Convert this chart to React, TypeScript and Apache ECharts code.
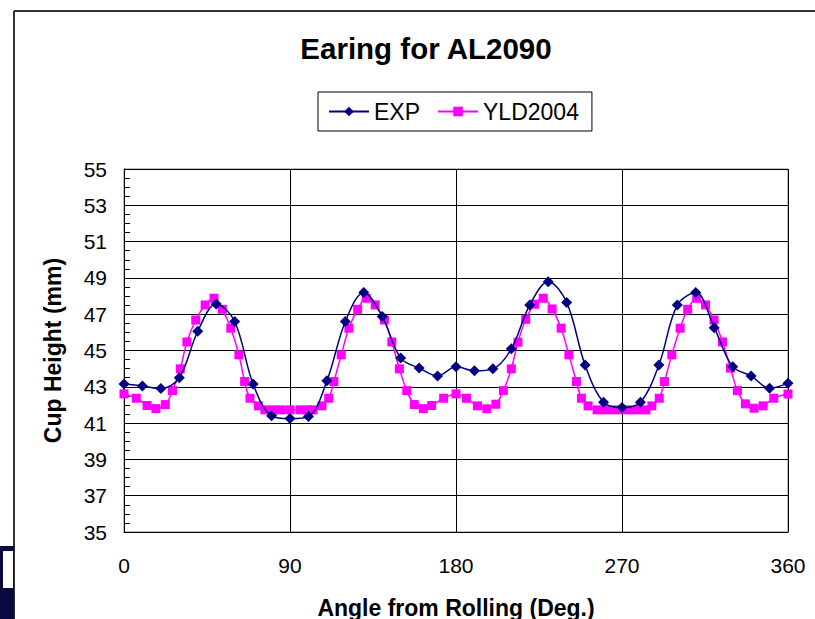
import React, { useEffect, useRef } from "react";
import * as echarts from "echarts";

const chartTitle = "Earing for AL2090";
const xAxisName = "Angle from Rolling (Deg.)";
const yAxisName = "Cup Height (mm)";
const xTicks = [0, 90, 180, 270, 360];

const expAngles = [0, 10, 20, 30, 40, 50, 60, 70, 80, 90, 100, 110, 120, 130, 140, 150, 160, 170, 180, 190, 200, 210, 220, 230, 240, 250, 260, 270, 280, 290, 300, 310, 320, 330, 340, 350, 360];
const expValues = [43.15, 43.05, 42.9, 43.5, 46.06, 47.56, 46.6, 43.15, 41.4, 41.25, 41.36, 43.33, 46.6, 48.2, 46.87, 44.58, 44.03, 43.6, 44.1, 43.88, 43.99, 45.09, 47.51, 48.79, 47.65, 44.2, 42.15, 41.86, 42.15, 44.2, 47.51, 48.19, 46.26, 44.11, 43.6, 42.92, 43.2];

const yldAngles = [0, 6.7, 12.5, 17.3, 22.4, 26.3, 30.5, 34.1, 38.9, 44.0, 48.8, 53.3, 57.9, 62.3, 65.4, 68.3, 72.8, 76.4, 80.9, 85.0, 90.0, 95.4, 99.2, 102.5, 107.3, 111.0, 113.8, 117.8, 121.9, 126.7, 131.3, 136.2, 141.2, 145.2, 149.3, 153.3, 157.4, 162.3, 166.8, 173.3, 180.0, 185.7, 191.6, 196.7, 201.6, 205.7, 210.0, 213.6, 217.8, 222.6, 227.3, 232.1, 237.0, 241.2, 245.3, 248.0, 251.6, 256.5, 261.0, 265.5, 270.0, 274.5, 279.0, 283.0, 286.2, 290.2, 293.0, 297.0, 301.5, 305.6, 310.5, 315.3, 319.9, 324.5, 328.8, 332.6, 336.9, 341.6, 346.5, 352.3, 360.0];
const yldValues = [42.61, 42.37, 41.97, 41.8, 42.02, 42.79, 43.99, 45.47, 46.68, 47.51, 47.88, 47.27, 46.23, 44.76, 43.29, 42.37, 41.95, 41.73, 41.73, 41.73, 41.73, 41.73, 41.73, 41.73, 41.95, 42.37, 43.29, 44.76, 46.23, 47.27, 47.88, 47.51, 46.68, 45.47, 43.99, 42.79, 42.02, 41.8, 41.97, 42.37, 42.61, 42.37, 41.95, 41.79, 42.04, 42.79, 43.99, 45.46, 46.72, 47.55, 47.88, 47.29, 46.23, 44.76, 43.29, 42.37, 41.95, 41.73, 41.73, 41.73, 41.73, 41.73, 41.73, 41.73, 41.95, 42.37, 43.29, 44.76, 46.23, 47.27, 47.88, 47.51, 46.68, 45.47, 44.03, 42.79, 42.06, 41.82, 41.95, 42.37, 42.6];

const FONT = "'Liberation Sans', Arial, sans-serif";

export default function App() {
  const ref = useRef<HTMLDivElement>(null);
  useEffect(() => {
    if (!ref.current) return;
    const chart = echarts.init(ref.current, null, { renderer: "svg" });
    const expData = expAngles.map((a, i) => [a, expValues[i]]);
    const yldData = yldAngles.map((a, i) => [a, yldValues[i]]);
    chart.setOption({
      animation: false,
      backgroundColor: "#ffffff",
      textStyle: { fontFamily: FONT },
      title: {
        text: chartTitle,
        left: 421,
        textAlign: "center",
        top: 28,
        textStyle: { fontFamily: FONT, fontSize: 29.5, fontWeight: "bold", color: "#000" },
      },
      legend: {
        left: 318,
        top: 92,
        padding: [8, 13, 8, 10],
        itemGap: 17,
        itemWidth: 40,
        itemHeight: 12,
        borderColor: "#000",
        borderWidth: 1,
        textStyle: { fontFamily: FONT, fontSize: 23, color: "#000" },
        data: ["EXP", "YLD2004"],
      },
      grid: {
        left: 124,
        top: 169,
        width: 664,
        height: 363,
        containLabel: false,
        outerBoundsMode: "none",
        show: true,
        borderColor: "#808080",
        borderWidth: 1,
        backgroundColor: "transparent",
      },
      xAxis: {
        type: "value",
        min: 0,
        max: 360,
        interval: 90,
        name: xAxisName,
        nameLocation: "middle",
        nameGap: 64,
        nameTextStyle: { fontFamily: FONT, fontSize: 23, fontWeight: "bold", color: "#000" },
        axisLine: { show: true, lineStyle: { color: "#000", width: 1 } },
        axisTick: { show: false },
        axisLabel: {
          margin: 23,
          fontFamily: FONT,
          fontSize: 21,
          color: "#000",
          customValues: xTicks,
        },
        splitLine: { show: true, lineStyle: { color: "#000", width: 1 } },
      },
      yAxis: {
        type: "value",
        min: 35,
        max: 55,
        interval: 2,
        name: yAxisName,
        nameLocation: "middle",
        nameGap: 60,
        nameRotate: 90,
        nameTextStyle: { fontFamily: FONT, fontSize: 23, fontWeight: "bold", color: "#000" },
        axisLine: { show: true, lineStyle: { color: "#000", width: 1 } },
        axisTick: { show: true, inside: true, length: 6, lineStyle: { color: "#000" } },
        minorTick: { show: true, splitNumber: 4, length: 6, lineStyle: { color: "#000" } },
        axisLabel: { margin: 17, fontFamily: FONT, fontSize: 21, color: "#000" },
        splitLine: { show: true, lineStyle: { color: "#000", width: 1 } },
      },
      series: [
        {
          name: "EXP",
          type: "line",
          data: expData,
          smooth: 0.35,
          symbol: "diamond",
          symbolSize: 11,
          color: "#000080",
          lineStyle: { color: "#000080", width: 1.5 },
          itemStyle: { color: "#000080" },
          z: 3,
        },
        {
          name: "YLD2004",
          type: "line",
          data: yldData,
          smooth: 0.35,
          symbol: "rect",
          symbolSize: 9,
          color: "#ff00ff",
          lineStyle: { color: "#ff00ff", width: 1.5 },
          itemStyle: { color: "#ff00ff" },
          z: 2,
        },
      ],
      graphic: [
        {
          type: "line",
          shape: { x1: 14, y1: 11, x2: 815, y2: 11 },
          style: { stroke: "#333", lineWidth: 2 },
        },
        {
          type: "line",
          shape: { x1: 14, y1: 11, x2: 14, y2: 619 },
          style: { stroke: "#333", lineWidth: 2 },
        },
        {
          type: "rect",
          shape: { x: 0, y: 546, width: 14, height: 73 },
          style: { fill: "#0a0a40" },
        },
        {
          type: "rect",
          shape: { x: 3, y: 551, width: 10, height: 37 },
          style: { fill: "#ffffff" },
        },
      ],
    });
    return () => chart.dispose();
  }, []);
  return (
    <div
      ref={ref}
      style={{ position: "absolute", left: 0, top: 0, width: 815, height: 619 }}
    />
  );
}
